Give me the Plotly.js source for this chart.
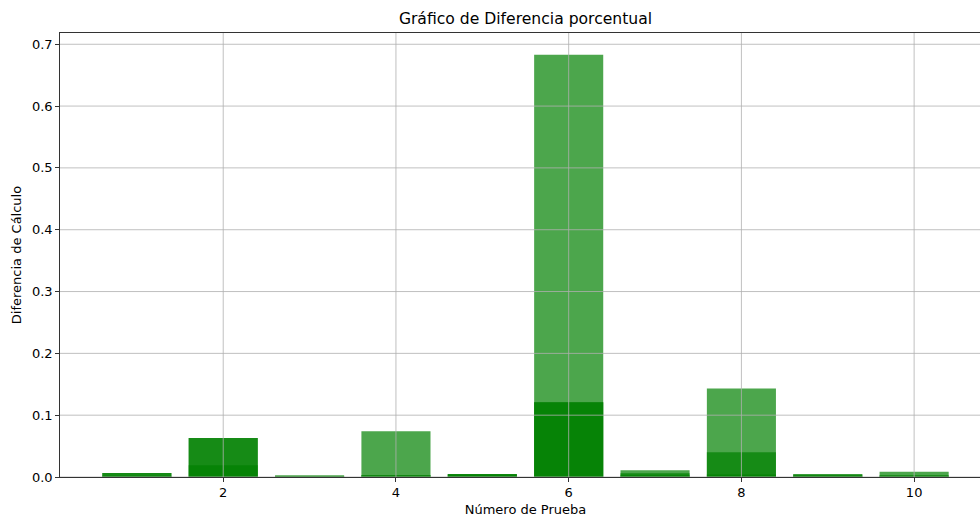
<!DOCTYPE html>
<html>
<head>
<meta charset="utf-8">
<script src="https://cdn.plot.ly/plotly-3.0.1.min.js"></script>
<style>
html,body{margin:0;padding:0;overflow:hidden;background:#fff;}
#chart{width:1000px;height:518px;}
</style>
</head>
<body>
<div id="chart"></div>
<script>
// Data
const pruebas = [1, 2, 3, 4, 5, 6, 7, 8, 9, 10];
const serie1 = [0.0065, 0.063, 0.003, 0.074, 0.005, 0.683, 0.011, 0.143, 0.0045, 0.0085];
const serie2 = [0.0065, 0.063, 0.001, 0.003, 0.005, 0.121, 0.006, 0.040, 0.0045, 0.003];
const serie3 = [0.002, 0.019, 0.001, 0.003, 0.004, 0.121, 0.003, 0.004, 0.002, 0.002];
const xTickVals = [2, 4, 6, 8, 10];
const xTickText = ["2", "4", "6", "8", "10"];
const yTickVals = [0, 0.1, 0.2, 0.3, 0.4, 0.5, 0.6, 0.7];
const yTickText = ["0.0", "0.1", "0.2", "0.3", "0.4", "0.5", "0.6", "0.7"];

const series = [serie1, serie2, serie3];
const traces = series.map((s, i) => ({
  type: 'bar',
  x: pruebas,
  y: s,
  width: 0.8,
  name: 'serie ' + (i + 1),
  marker: {color: 'rgb(0,128,0)', opacity: 0.7, line: {width: 0}},
  hoverinfo: 'x+y'
}));

const gridColor = '#b0b0b0';
const shapes = [];
xTickVals.forEach(v => shapes.push({
  type: 'line', layer: 'above', xref: 'x', yref: 'paper',
  x0: v, x1: v, y0: 0, y1: 1, line: {color: gridColor, width: 0.8}
}));
yTickVals.forEach(v => shapes.push({
  type: 'line', layer: 'above', xref: 'paper', yref: 'y',
  x0: 0, x1: 1, y0: v, y1: v, line: {color: gridColor, width: 0.8}
}));

const font = {family: 'DejaVu Sans', size: 13, color: '#000'};
const axisCommon = {
  showgrid: false, zeroline: false,
  showline: true, linecolor: '#000', linewidth: 0.8, mirror: true,
  ticks: 'outside', ticklen: 4, tickwidth: 0.8, tickcolor: '#000',
  tickfont: font
};

const layout = {
  width: 1000, height: 518,
  margin: {l: 60, r: 9, t: 33, b: 41},
  paper_bgcolor: '#fff', plot_bgcolor: '#fff',
  barmode: 'overlay',
  showlegend: false,
  font: font,
  title: {text: 'Gráfico de Diferencia porcentual', font: {family: 'DejaVu Sans', size: 15.6, color: '#000'},
          x: 0.5, xref: 'paper', y: 1, yref: 'container', yanchor: 'top', pad: {t: 13}},
  xaxis: Object.assign({}, axisCommon, {
    range: [0.11, 10.89], tickvals: xTickVals, ticktext: xTickText,
    title: {text: 'Número de Prueba', font: font, standoff: 5}
  }),
  yaxis: Object.assign({}, axisCommon, {
    range: [0, 0.7182], tickvals: yTickVals, ticktext: yTickText,
    title: {text: 'Diferencia de Cálculo', font: font, standoff: 7}
  }),
  shapes: shapes
};

Plotly.newPlot('chart', traces, layout, {displayModeBar: false, staticPlot: true});
</script>
</body>
</html>
